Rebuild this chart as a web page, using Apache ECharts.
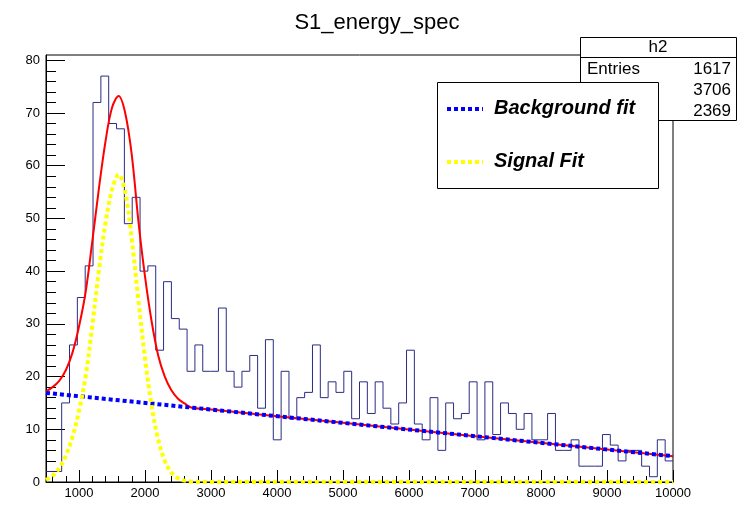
<!DOCTYPE html>
<html>
<head>
<meta charset="utf-8">
<script src="https://cdn.jsdelivr.net/npm/echarts@6/dist/echarts.min.js"></script>
<style>
html, body { margin: 0; padding: 0; background: #fff; }
#chart { width: 738px; height: 505px; }
</style>
</head>
<body>
<div id="chart"></div>
<script>
// histogram h2, 80 bins between 500 and 10000
const histMin = 500;
const histMax = 10000;
const binCounts = [
    2, 2, 15, 26, 35, 41, 72, 77, 68, 67,
    49, 54, 40, 41, 25, 38, 31, 29, 21, 26,
    21, 21, 33, 21, 18, 21, 24, 14, 27, 8,
    21, 12, 16, 17, 26, 16, 19, 17, 21, 12,
    19, 13, 19, 14, 11, 15, 25, 11, 8, 16,
    6, 15, 12, 13, 19, 8, 19, 9, 15, 13,
    10, 13, 8, 8, 13, 6, 6, 8, 3, 3,
    3, 9, 7, 4, 6, 6, 3, 1, 8, 4
];

// fit curves
const fitX = [500, 600, 700, 800, 900, 1000, 1100, 1200, 1300, 1400, 1500, 1600, 1700, 1800, 1900,
    2000, 2100, 2200, 2300, 2400, 2500, 2600, 2700, 3000, 5000, 7500, 10000];
const totalFit = [17.2, 18.0, 19.2, 21.2, 24.5, 29.5, 36, 45.5, 55.5, 64.5, 71, 73.2, 70, 62, 49.5,
    39, 30.5, 24, 20, 17.4, 15.8, 14.9, 14.12, 13.74, 11.22, 8.06, 4.9];
const signalFit = [0.4, 1.2, 2.6, 5, 8.5, 13.5, 20, 29.5, 40, 49, 55.5, 58.3, 55, 46, 34.5,
    23.5, 14.5, 8, 4, 1.8, 0.7, 0.25, 0.08, 0, 0, 0, 0];
const bgX = [500, 10000];
const bgFit = [16.9, 4.9];

// stats box
const statsName = 'h2';
const statsEntries = 1617;
const statsMean = 3706;
const statsStd = 2369;

const xMajorTicks = [1000, 2000, 3000, 4000, 5000, 6000, 7000, 8000, 9000, 10000];
const yMajorTicks = [0, 10, 20, 30, 40, 50, 60, 70, 80];
const xMinorTicks = [];
for (let v = 600; v < histMax; v += 200) {
    if (v % 1000 !== 0) xMinorTicks.push(v);
}
const yMinorTicks = [];
for (let v = 2; v <= 80; v += 2) {
    if (v % 10 !== 0) yMinorTicks.push(v);
}

const binWidth = (histMax - histMin) / binCounts.length;
const histData = binCounts.map((c, i) => [histMin + i * binWidth, c]);
histData.push([histMax, binCounts[binCounts.length - 1]]);

const font = 'Liberation Sans, Arial, Helvetica, sans-serif';

const chart = echarts.init(document.getElementById('chart'));

const option = {
    animation: false,
    backgroundColor: '#fff',
    title: {
        text: 'S1_energy_spec',
        left: 372,
        top: 7,
        textAlign: 'center',
        textStyle: {fontFamily: font, fontSize: 22, fontWeight: 'normal', color: '#000'}
    },
    grid: {
        left: 46, right: 65, top: 55, bottom: 23,
        show: true, borderColor: '#000', borderWidth: 1, backgroundColor: 'transparent'
    },
    xAxis: [{
        type: 'value', min: histMin, max: histMax,
        axisLine: {show: true, onZero: false, lineStyle: {color: '#000', width: 1}},
        axisTick: {show: true, inside: true, length: 12, customValues: xMajorTicks, lineStyle: {color: '#000'}},
        axisLabel: {
            customValues: xMajorTicks, color: '#000', fontSize: 13, fontFamily: font, margin: 5,
            formatter: v => String(v)
        },
        splitLine: {show: false}
    }, {
        type: 'value', min: histMin, max: histMax, position: 'bottom',
        axisLine: {show: false},
        axisTick: {show: true, inside: true, length: 6, customValues: xMinorTicks, lineStyle: {color: '#000'}},
        axisLabel: {show: false},
        splitLine: {show: false}
    }],
    yAxis: [{
        type: 'value', min: 0, max: 81,
        axisLine: {show: true, onZero: false, lineStyle: {color: '#000', width: 1}},
        axisTick: {show: true, inside: true, length: 19, customValues: yMajorTicks, lineStyle: {color: '#000'}},
        axisLabel: {
            customValues: yMajorTicks, color: '#000', fontSize: 13, fontFamily: font, margin: 6,
            formatter: v => String(v)
        },
        splitLine: {show: false}
    }, {
        type: 'value', min: 0, max: 81, position: 'left',
        axisLine: {show: false},
        axisTick: {show: true, inside: true, length: 10, customValues: yMinorTicks, lineStyle: {color: '#000'}},
        axisLabel: {show: false},
        splitLine: {show: false}
    }],
    series: [{
        name: 'h2',
        type: 'line',
        step: 'end',
        showSymbol: false,
        data: histData,
        lineStyle: {color: '#2b2b85', width: 1},
        z: 2
    }, {
        name: 'Total fit',
        type: 'line',
        smooth: 0.35,
        showSymbol: false,
        data: fitX.map((x, i) => [x, totalFit[i]]),
        lineStyle: {color: '#ff0000', width: 2},
        z: 3
    }, {
        name: 'Background fit',
        type: 'line',
        showSymbol: false,
        data: bgX.map((x, i) => [x, bgFit[i]]),
        lineStyle: {color: '#0000ff', width: 4, type: [4, 3]},
        z: 4
    }, {
        name: 'Signal Fit',
        type: 'line',
        smooth: 0.35,
        showSymbol: false,
        clip: false,
        data: fitX.map((x, i) => [x, signalFit[i]]),
        lineStyle: {color: '#ffff00', width: 4, type: [4, 3]},
        z: 5
    }],
    graphic: [{
        // stats box
        type: 'group', z: 100,
        children: [{
            type: 'rect', shape: {x: 580.5, y: 37.5, width: 156, height: 83},
            style: {fill: '#fff', stroke: '#000', lineWidth: 1}
        }, {
            type: 'line', shape: {x1: 580.5, y1: 57.5, x2: 736.5, y2: 57.5},
            style: {stroke: '#000', lineWidth: 1}
        }, {
            type: 'text', x: 658, y: 47,
            style: {text: statsName, font: '17px ' + font, fill: '#000', align: 'center', verticalAlign: 'middle'}
        }, {
            type: 'text', x: 587, y: 69,
            style: {text: 'Entries', font: '17px ' + font, fill: '#000', align: 'left', verticalAlign: 'middle'}
        }, {
            type: 'text', x: 731, y: 69,
            style: {text: String(statsEntries), font: '17px ' + font, fill: '#000', align: 'right', verticalAlign: 'middle'}
        }, {
            type: 'text', x: 731, y: 90,
            style: {text: String(statsMean), font: '17px ' + font, fill: '#000', align: 'right', verticalAlign: 'middle'}
        }, {
            type: 'text', x: 731, y: 111,
            style: {text: String(statsStd), font: '17px ' + font, fill: '#000', align: 'right', verticalAlign: 'middle'}
        }]
    }, {
        // legend
        type: 'group', z: 110,
        children: [{
            type: 'rect', shape: {x: 437.5, y: 82.5, width: 221, height: 106},
            style: {fill: '#fff', stroke: '#000', lineWidth: 1}
        }, {
            type: 'line', shape: {x1: 447, y1: 109, x2: 483, y2: 109},
            style: {stroke: '#0000ff', lineWidth: 4, lineDash: [4, 3]}
        }, {
            type: 'text', x: 494, y: 108,
            style: {text: 'Background fit', font: 'italic bold 20px ' + font, fill: '#000', align: 'left', verticalAlign: 'middle'}
        }, {
            type: 'line', shape: {x1: 447, y1: 162, x2: 483, y2: 162},
            style: {stroke: '#ffff00', lineWidth: 4, lineDash: [4, 3]}
        }, {
            type: 'text', x: 494, y: 161,
            style: {text: 'Signal Fit', font: 'italic bold 20px ' + font, fill: '#000', align: 'left', verticalAlign: 'middle'}
        }]
    }]
};

chart.setOption(option);
</script>
</body>
</html>
